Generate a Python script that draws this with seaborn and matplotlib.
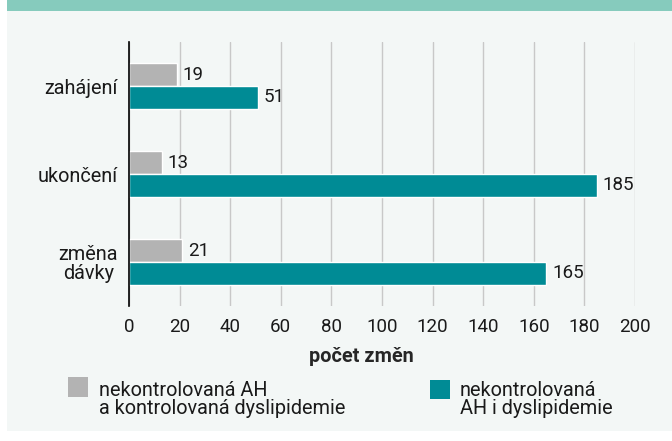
import matplotlib
matplotlib.use("Agg")
import matplotlib.pyplot as plt
import seaborn as sns
import pandas as pd
from matplotlib.patches import Rectangle

categories = ["zahájení", "ukončení", "změna\ndávky"]
series_names = [
    "nekontrolovaná AH\na kontrolovaná dyslipidemie",
    "nekontrolovaná\nAH i dyslipidemie",
]
controlled_dl = [19, 13, 21]
uncontrolled_both = [51, 185, 165]
x_ticks = [0, 20, 40, 60, 80, 100, 120, 140, 160, 180, 200]

bg = "#f3f7f6"
colors = ["#b3b3b3", "#008b95"]
fs_txt = 14.3
fs_num = 13.5
W, H = 672, 441

df = pd.DataFrame(
    {
        "kategorie": categories * 2,
        "serie": [series_names[0]] * 3 + [series_names[1]] * 3,
        "pocet": controlled_dl + uncontrolled_both,
    }
)

sns.set_style("white")
plt.rcParams["font.family"] = ["Roboto", "DejaVu Sans"]
plt.rcParams["font.size"] = fs_txt


def fx(px):
    return px / W


def fy(py):
    return 1 - py / H


fig = plt.figure(figsize=(W / 100, H / 100), dpi=100, facecolor="white")
# panel background and top band
fig.patches.append(
    Rectangle((fx(7), fy(431)), 1, 1, transform=fig.transFigure,
              facecolor=bg, edgecolor="none", zorder=-10)
)
fig.patches.append(
    Rectangle((fx(7), fy(11)), 1, 11 / H, transform=fig.transFigure,
              facecolor="#86cbbd", edgecolor="none", zorder=-9)
)

ax = fig.add_axes([fx(129), fy(306), (635 - 129) / W, (306 - 42) / H])
ax.set_facecolor(bg)

sns.barplot(
    data=df,
    y="kategorie",
    x="pocet",
    hue="serie",
    orient="h",
    palette=colors,
    width=0.52,
    saturation=1,
    ax=ax,
    legend=False,
)

for container in ax.containers:
    ax.bar_label(container, padding=4, fontsize=fs_num, color="#1a1a1a")

ax.set_xlim(0, 200)
ax.set_xticks(x_ticks)
ax.grid(axis="x", color="#c8c8c8", linewidth=1)
ax.set_axisbelow(True)
for side in ["top", "right", "bottom"]:
    ax.spines[side].set_visible(False)
ax.spines["left"].set_color("black")
ax.spines["left"].set_linewidth(1.2)
ax.tick_params(axis="both", length=0, colors="#1a1a1a")
ax.tick_params(axis="x", pad=9, labelsize=fs_num)
ax.tick_params(axis="y", pad=8, labelsize=fs_txt)
for lbl in ax.get_yticklabels():
    lbl.set_horizontalalignment("right")
    lbl.set_multialignment("center")
    lbl.set_linespacing(1.0)
ax.set_ylabel("")
ax.set_xlabel("počet změn", fontweight="bold", fontsize=fs_txt, labelpad=5)
ax.xaxis.set_label_coords(0.46, -0.155)

# legend: swatch + two-line label for each series
legend_boxes = [(68, 377, 20, 20), (430, 380, 20, 19)]
legend_text_x = [99, 460]
for name, col, (lx, ly, lw, lh), tx in zip(series_names, colors, legend_boxes, legend_text_x):
    fig.patches.append(
        Rectangle((fx(lx), fy(ly + lh)), lw / W, lh / H, transform=fig.transFigure,
                  facecolor=col, edgecolor="none")
    )
    # baseline of the last line
    fig.text(fx(tx), fy(414.5), name, fontsize=fs_txt, color="#1a1a1a",
             ha="left", va="baseline", linespacing=0.95)

fig.savefig("out.png", dpi=100, facecolor="white")
